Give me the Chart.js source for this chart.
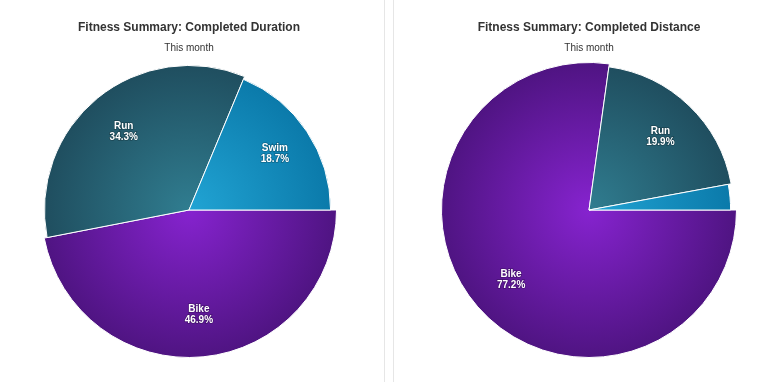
<!DOCTYPE html>
<html><head><meta charset="utf-8">
<script src="https://cdn.jsdelivr.net/npm/chart.js@4"></script>
<style>
html,body{margin:0;padding:0;background:#fff;width:781px;height:382px;overflow:hidden}
.cv{position:absolute;top:0}
.sep{position:absolute;top:0;width:1px;height:382px;background:#e6e6e6}
</style></head>
<body>
<div class="sep" style="left:384px"></div>
<div class="sep" style="left:393px"></div>
<div class="cv" style="left:0;width:384px;height:382px"><canvas id="c1"></canvas></div>
<div class="cv" style="left:394px;width:387px;height:382px"><canvas id="c2"></canvas></div>
<script>
// ---- data ----
const categories = ['Bike', 'Run', 'Swim'];
const durationShare = [46.9, 34.3, 18.7];
const distanceShare = [77.2, 19.9, 2.9];
const titleDuration = 'Fitness Summary: Completed Duration';
const titleDistance = 'Fitness Summary: Completed Distance';
const subtitleText = 'This month';

// ---- style ----
const radiusFactors = [1, 0.98, 0.96];
const gradLight = ['#8623cf', '#307d90', '#21a4d4'];
const gradDark  = ['#4f1482', '#1f4d5e', '#0a78a8'];
const FONT = 'Liberation Sans, Arial, sans-serif';

function grad(ctx) {
  const i = ctx.dataIndex;
  const c = ctx.chart, a = c.chartArea;
  if (!a) return gradDark[i];
  const cx = (a.left + a.right) / 2, cy = (a.top + a.bottom) / 2;
  const r = Math.min(a.right - a.left, a.bottom - a.top) / 2;
  const g = c.ctx.createRadialGradient(cx, cy, 0, cx, cy, r);
  g.addColorStop(0, gradLight[i]);
  g.addColorStop(1, gradDark[i]);
  return g;
}

const shapePlugin = {
  id: 'shape',
  beforeDatasetsDraw(chart) {
    const meta = chart.getDatasetMeta(0);
    const base = meta.controller.outerRadius;
    meta.data.forEach((arc, i) => { arc.outerRadius = base * radiusFactors[i]; });
  },
  afterDatasetsDraw(chart) {
    const meta = chart.getDatasetMeta(0);
    const base = meta.controller.outerRadius;
    const vals = chart.data.datasets[0].data;
    const c = chart.ctx;
    c.save();
    c.font = 'bold 10px ' + FONT;
    c.textAlign = 'center';
    c.textBaseline = 'middle';
    meta.data.forEach((arc, i) => {
      if (vals[i] < 5) return;
      const mid = (arc.startAngle + arc.endAngle) / 2;
      const d = base * 0.7;
      const x = arc.x + Math.cos(mid) * d;
      const y = arc.y + Math.sin(mid) * d + 1.5;
      const lines = [chart.data.labels[i], vals[i].toFixed(1) + '%'];
      lines.forEach((t, k) => {
        const yy = y - 5.5 + k * 11;
        c.lineWidth = 1.5;
        c.strokeStyle = 'rgba(0,0,0,0.25)';
        c.strokeText(t, x, yy);
        c.fillStyle = '#ffffff';
        c.fillText(t, x, yy);
      });
    });
    c.restore();
  }
};

function makeChart(id, values, title, pad) {
  return new Chart(document.getElementById(id), {
    type: 'pie',
    data: {
      labels: categories,
      datasets: [{
        data: values,
        backgroundColor: grad,
        borderColor: '#ffffff',
        borderWidth: 1,
        hoverOffset: 0
      }]
    },
    options: {
      responsive: true,
      maintainAspectRatio: false,
      animation: false,
      rotation: 90,
      layout: { padding: pad },
      events: [],
      plugins: {
        legend: { display: false },
        tooltip: { enabled: false },
        title: {
          display: true, text: title, color: '#333333',
          font: { family: FONT, size: 12, weight: 'bold' },
          padding: { top: 20.8, bottom: 6.6 }
        },
        subtitle: {
          display: true, text: subtitleText, color: '#333333',
          font: { family: FONT, size: 10, weight: 'normal' },
          padding: { top: 0, bottom: 8.2 }
        }
      }
    },
    plugins: [shapePlugin]
  });
}

makeChart('c1', durationShare, titleDuration, { top: 0, bottom: 24, left: 0, right: 6 });
makeChart('c2', distanceShare, titleDistance, { top: 0, bottom: 24, left: 3, right: 0 });
</script>
</body></html>
